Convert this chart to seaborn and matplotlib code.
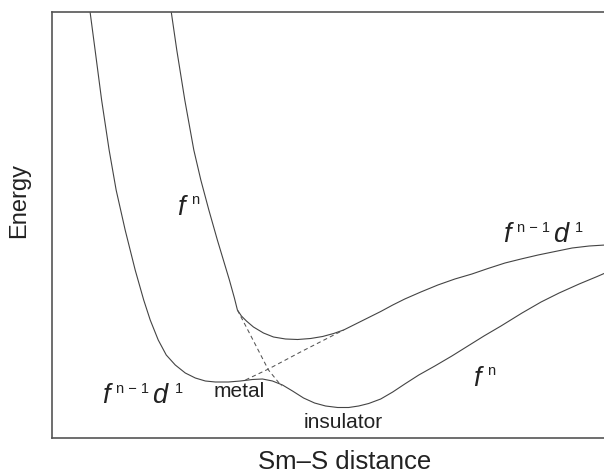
import matplotlib
matplotlib.use("Agg")
import matplotlib.pyplot as plt
import seaborn as sns

# Adiabatic potential-energy curves (Sm–S distance, energy; arbitrary units)
lower_r = [0.38, 0.43, 0.495, 0.57, 0.64, 0.73, 0.83, 0.915, 0.98, 1.06, 1.14, 1.23,
           1.33, 1.43, 1.53, 1.63, 1.76, 1.88, 2.00, 2.10, 2.20, 2.30, 2.40, 2.51,
           2.62, 2.73, 2.85, 2.96, 3.06, 3.16, 3.28, 3.40, 3.52, 3.66, 3.82, 3.99,
           4.15, 4.31, 4.48, 4.69, 4.88, 5.06, 5.26, 5.44, 5.52]
lower_e = [4.26, 3.88, 3.38, 2.88, 2.48, 2.08, 1.68, 1.38, 1.18, 0.98, 0.83, 0.73,
           0.65, 0.60, 0.57, 0.56, 0.56, 0.57, 0.585, 0.59, 0.57, 0.53, 0.47, 0.40,
           0.35, 0.32, 0.305, 0.305, 0.32, 0.345, 0.39, 0.46, 0.54, 0.63, 0.72, 0.82,
           0.92, 1.02, 1.12, 1.25, 1.36, 1.45, 1.54, 1.615, 1.65]

upper_r = [1.19, 1.245, 1.325, 1.415, 1.485, 1.565, 1.65, 1.71, 1.77, 1.82, 1.85,
           1.89, 1.94, 2.01, 2.11, 2.21, 2.33, 2.45, 2.58, 2.70, 2.81, 2.91, 3.03,
           3.15, 3.28, 3.40, 3.52, 3.68, 3.85, 4.02, 4.19, 4.35, 4.52, 4.68, 4.85,
           5.02, 5.19, 5.36, 5.52]
upper_e = [4.26, 3.88, 3.38, 2.88, 2.58, 2.28, 1.98, 1.78, 1.58, 1.40, 1.28,
           1.22, 1.17, 1.11, 1.05, 1.01, 0.99, 0.985, 0.995, 1.015, 1.045, 1.08, 1.14,
           1.20, 1.265, 1.33, 1.39, 1.46, 1.53, 1.59, 1.64, 1.695, 1.75, 1.79, 1.83,
           1.865, 1.90, 1.92, 1.93]

# Diabatic continuations through the crossing region
fn_dash_r = [1.85, 1.98, 2.16, 2.29]
fn_dash_e = [1.28, 1.03, 0.68, 0.52]
fd_dash_r = [1.93, 2.16, 2.48, 2.91]
fd_dash_e = [0.58, 0.69, 0.86, 1.08]

sns.set_theme(style="white")
plt.rcParams["font.family"] = ["Liberation Sans", "DejaVu Sans"]

fig = plt.figure(figsize=(6.04, 4.74), dpi=100)
ax = fig.add_axes([52 / 604, 36 / 474, 1 - 52 / 604 + 0.002, 426 / 474])

line_col = "#444444"
for r, e in [(lower_r, lower_e), (upper_r, upper_e)]:
    sns.lineplot(x=r, y=e, sort=False, estimator=None, ax=ax,
                 color=line_col, linewidth=0.8)
for r, e in [(fn_dash_r, fn_dash_e), (fd_dash_r, fd_dash_e)]:
    sns.lineplot(x=r, y=e, sort=False, estimator=None, ax=ax,
                 color="#555555", linewidth=0.75, linestyle=(0, (4, 3)))

ax.set_xlim(0, 5.52)
ax.set_ylim(0, 4.26)
ax.set_xticks([])
ax.set_yticks([])
for side in ["left", "top", "bottom"]:
    ax.spines[side].set_color("#555555")
    ax.spines[side].set_linewidth(1.2)
ax.spines["right"].set_visible(False)

txt_col = "#222222"


def configuration(x, y, pieces):
    """Write a term like f^(n-1) d^1 as chained text pieces on one baseline."""
    prev = None
    for text, italic, size, gap, rise in pieces:
        style = "italic" if italic else "normal"
        if prev is None:
            prev = ax.text(x, y, text, fontsize=size, style=style, color=txt_col,
                           ha="left", va="baseline")
        else:
            prev = ax.annotate(text, xy=(1, y), xycoords=(prev, "data"),
                               xytext=(gap, rise), textcoords="offset points",
                               fontsize=size, style=style, color=txt_col,
                               ha="left", va="baseline")


BIG, SUP = 19.5, 10.5
fn_term = [("f", True, BIG, 0, 0), ("n", False, SUP, 4.5, 8)]
fd_term = [("f", True, BIG, 0, 0), ("n \u2212 1", False, SUP, 4.5, 7),
           ("d", True, BIG, 2.5, 0), ("1", False, SUP, 5.0, 7)]

configuration(1.25, 2.23, fn_term)
configuration(4.20, 0.52, fn_term)
configuration(0.50, 0.35, fd_term)
configuration(4.50, 1.96, fd_term)
ax.text(1.61, 0.41, "metal", fontsize=15, color=txt_col)
ax.text(2.51, 0.10, "insulator", fontsize=15, color=txt_col)

fig.text(19 / 604, 1 - 201 / 474, "Energy", rotation=90, ha="center", va="center",
         fontsize=17, color=txt_col)
fig.text(345 / 604, 1 - 462 / 474, "Sm\u2013S distance", ha="center", va="center",
         fontsize=18.5, color=txt_col)

fig.savefig("out.png", dpi=100, facecolor="white")
